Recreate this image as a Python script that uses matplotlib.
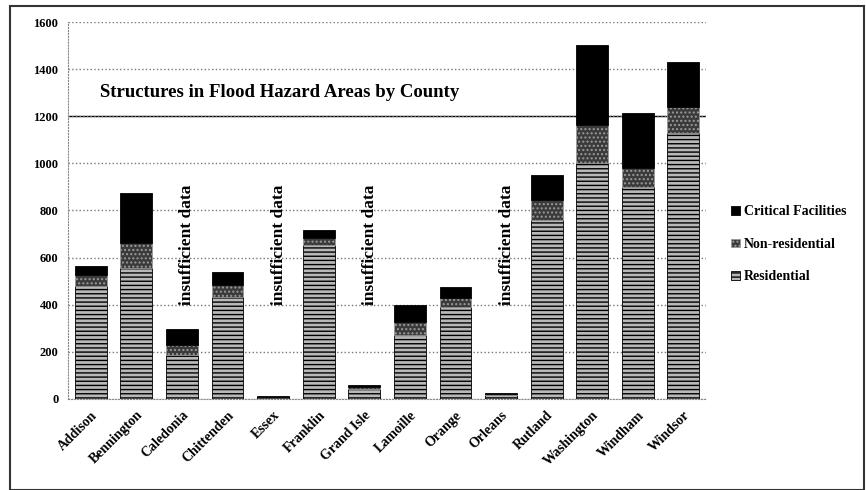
import numpy as np
import matplotlib
matplotlib.use("Agg")
import matplotlib.pyplot as plt
from matplotlib.patches import Rectangle

counties = ["Addison", "Bennington", "Caledonia", "Chittenden", "Essex", "Franklin",
            "Grand Isle", "Lamoille", "Orange", "Orleans", "Rutland", "Washington",
            "Windham", "Windsor"]
residential = [478, 556, 187, 434, 8, 655, 40, 272, 392, 18, 760, 1000, 900, 1128]
non_residential = [50, 106, 42, 50, 2, 30, 10, 56, 36, 3, 85, 163, 80, 113]
critical = [37, 213, 68, 54, 1, 32, 10, 71, 49, 3, 105, 340, 233, 191]
no_data = ["Caledonia", "Essex", "Grand Isle", "Orleans"]

plt.rcParams['font.family'] = ['Liberation Serif', 'DejaVu Serif']
plt.rcParams['hatch.linewidth'] = 1.0

fig = plt.figure(figsize=(8.66, 4.9), dpi=100)
ax = fig.add_axes([0.0785, 0.186, 0.737, 0.769])

x = np.arange(len(counties))
res = np.array(residential)
non = np.array(non_residential)
crit = np.array(critical)

ax.bar(x, res, width=0.7, color='#b8b8b8', edgecolor='black', hatch='----',
       linewidth=0.6, label='Residential', zorder=3)
ax.bar(x, non, width=0.7, bottom=res, color='#3a3a3a', edgecolor='#9a9a9a',
       hatch='....', linewidth=0.6, label='Non-residential', zorder=3)
ax.bar(x, crit, width=0.7, bottom=res + non, color='black', edgecolor='black',
       linewidth=0.6, label='Critical Facilities', zorder=3)

for name in no_data:
    i = counties.index(name)
    ax.text(i + 0.12, 400, "insufficient data", rotation=90, ha='center', va='bottom',
            fontsize=12.5, fontweight='bold', zorder=4)

ax.text(0.2, 1300, "Structures in Flood Hazard Areas by County", fontsize=13.5,
        fontweight='bold', va='center', ha='left')

ax.set_ylim(0, 1600)
ax.set_xlim(-0.5, len(counties) - 0.5)
ax.set_yticks(np.arange(0, 1601, 200))
ax.set_yticklabels([str(v) for v in range(0, 1601, 200)], fontsize=9, fontweight='bold')
ax.set_xticks(x)
ax.set_xticklabels(counties, rotation=45, ha='right', rotation_mode='anchor',
                   fontsize=10, fontweight='bold')
ax.tick_params(length=0, pad=7)
ax.yaxis.grid(True, color='#777777', linestyle=':', linewidth=1.0, zorder=0)
ax.axhline(1200, color='black', linewidth=1.0, zorder=1)
for s in ['top', 'right']:
    ax.spines[s].set_visible(False)
for s in ['left', 'bottom']:
    ax.spines[s].set_color('#888888')
    ax.spines[s].set_linestyle(':')

handles, labels = ax.get_legend_handles_labels()
ax.legend(handles[::-1], labels[::-1], loc='center left', bbox_to_anchor=(1.02, 0.41),
          frameon=False, handlelength=0.6, handleheight=0.6,
          handletextpad=0.3, labelspacing=1.4, prop={'weight': 'bold', 'size': 10})

fig.patches.append(Rectangle((0.012, 0.0), 0.986, 0.988, transform=fig.transFigure,
                             fill=False, edgecolor='#333333', linewidth=1.5))

fig.savefig("out.png", dpi=100)
